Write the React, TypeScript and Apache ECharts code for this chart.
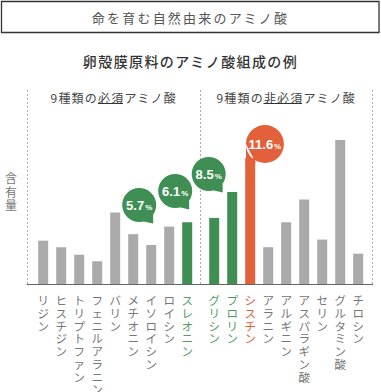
import React, { useEffect, useRef } from "react";
import * as echarts from "echarts";

// ---- texts ----
const TITLE = "命を育む自然由来のアミノ酸";
const SUBTITLE = "卵殻膜原料のアミノ酸組成の例";
const GROUP_ESSENTIAL = "9種類の必須アミノ酸";
const GROUP_NON_ESSENTIAL = "9種類の非必須アミノ酸";
const Y_NAME = "含有量";

// ---- data ----
const essentialNames = [
  "リジン",
  "ヒスチジン",
  "トリプトファン",
  "フェニルアラニン",
  "バリン",
  "メチオニン",
  "イソロイシン",
  "ロイシン",
  "スレオニン",
];
const essentialValues = [4.0, 3.4, 2.7, 2.1, 6.6, 4.6, 3.6, 5.3, 5.7];

const nonEssentialNames = [
  "グリシン",
  "プロリン",
  "シスチン",
  "アラニン",
  "アルギニン",
  "アスパラギン酸",
  "セリン",
  "グルタミン酸",
  "チロシン",
];
const nonEssentialValues = [6.1, 8.5, 11.6, 3.4, 5.7, 7.8, 4.1, 13.3, 2.8];

const greenNames = ["スレオニン", "グリシン", "プロリン"];
const orangeNames = ["シスチン"];
const calloutNames = ["スレオニン", "グリシン", "プロリン", "シスチン"];

// ---- styles ----
const JP = "'Noto Sans CJK JP', 'Noto Sans', sans-serif";
const NUM = "'Liberation Sans', Arial, sans-serif";
const GRAY = "#aaaaaa";
const GREEN = "#3f8f55";
const ORANGE = "#e2613b";
const LABEL_GRAY = "#777777";
const LABEL_GREEN = "#4f9d62";

const GROUP_GAP = 0.5; // extra slot between the two groups
const X_MIN = -0.9;
const X_MAX = 18.3;

const calloutOffsets: Record<string, number[]> = {
  "スレオニン": [-48, -16.5],
  "グリシン": [-39, -26.2],
  "プロリン": [-23.5, -17.2],
  "シスチン": [14.7, -14.3],
};

const GREEN_BUBBLE =
  "path://M0,17A17,17,0,1,1,34,17A17,17,0,1,1,0,17ZM30.9,26.75L31,35.5L21.4,33.4Z";
const ORANGE_BUBBLE =
  "path://M0,19A19,19,0,1,1,38,19A19,19,0,1,1,0,19ZM0,19L0,38L10,38Z";

const LETTER_SPACING: Record<string, number> = {
  [TITLE]: 2.2,
  [SUBTITLE]: 1.4,
  [GROUP_ESSENTIAL]: 1.2,
  [GROUP_NON_ESSENTIAL]: 1.2,
};

type Bar = { name: string; value: number; x: number };

const bars: Bar[] = [
  ...essentialNames.map((name, i) => ({ name, value: essentialValues[i], x: i })),
  ...nonEssentialNames.map((name, j) => ({
    name,
    value: nonEssentialValues[j],
    x: essentialNames.length + GROUP_GAP + j,
  })),
];

const divider = (essentialNames.length - 1 + essentialNames.length + GROUP_GAP) / 2;

function barColor(name: string) {
  if (orangeNames.includes(name)) return ORANGE;
  if (greenNames.includes(name)) return GREEN;
  return GRAY;
}
function labelColor(name: string) {
  if (orangeNames.includes(name)) return ORANGE;
  if (greenNames.includes(name)) return LABEL_GREEN;
  return LABEL_GRAY;
}

function buildOption(): any {
  const callouts = calloutNames.map((name) => {
    const b = bars.find((d) => d.name === name)!;
    const orange = orangeNames.includes(name);
    return {
      coord: [b.x, b.value],
      symbol: orange ? ORANGE_BUBBLE : GREEN_BUBBLE,
      symbolSize: orange ? [38, 38] : [34, 35.5],
      symbolOffset: calloutOffsets[name],
      itemStyle: { color: orange ? ORANGE : GREEN },
      label: {
        show: true,
        position: "inside",
        offset: orange ? [0, 0] : [0, -0.7],
        formatter: `{n|${b.value.toFixed(1)}}{p|%}`,
        rich: {
          n: { fontSize: 13, fontWeight: "bold", color: "#fff", fontFamily: NUM },
          p: { fontSize: 8, fontWeight: "bold", color: "#fff", fontFamily: NUM, padding: [5, 0, 0, 1] },
        },
      },
    };
  });

  return {
    animation: false,
    backgroundColor: "#ffffff",
    grid: { left: 27, right: 8.4, top: 89, bottom: 108, containLabel: false },
    xAxis: {
      type: "value",
      min: X_MIN,
      max: X_MAX,
      axisLine: { show: true, onZero: false, lineStyle: { color: "#666666", width: 1 } },
      axisTick: { show: false },
      axisLabel: { show: false },
      splitLine: { show: false },
    },
    yAxis: { type: "value", min: 0, max: 18, show: false },
    series: [
      {
        type: "bar",
        barWidth: 10,
        data: bars.map((b) => ({
          value: [b.x, b.value],
          itemStyle: { color: barColor(b.name) },
          label: { color: labelColor(b.name) },
        })),
        label: {
          show: true,
          position: "bottom",
          distance: 10,
          formatter: (p: any) => bars[p.dataIndex].name.split("").join("\n"),
          fontSize: 11.5,
          lineHeight: 12.7,
          fontFamily: JP,
          align: "center",
          verticalAlign: "top",
        },
        markLine: {
          silent: true,
          symbol: ["none", "none"],
          label: { show: false },
          lineStyle: { color: "#aaaaaa", type: [2, 2], width: 1 },
          data: [{ xAxis: X_MIN }, { xAxis: divider }, { xAxis: X_MAX }],
        },
        markPoint: { silent: true, data: callouts },
      },
    ],
    graphic: [
      {
        type: "rect",
        shape: { x: 1.5, y: 1.5, width: 377.5, height: 31 },
        style: { fill: "none", stroke: "#333333", lineWidth: 1.3 },
      },
      {
        type: "text",
        style: {
          text: TITLE, x: 190.5, y: 17.5, fill: "#555555", fontSize: 13, fontFamily: JP,
          align: "center", verticalAlign: "middle", textAlign: "center", textVerticalAlign: "middle",
        },
      },
      {
        type: "text",
        style: {
          text: SUBTITLE, x: 190.5, y: 61, fill: "#333333", fontSize: 14, fontWeight: 500, fontFamily: JP,
          align: "center", verticalAlign: "middle", textAlign: "center", textVerticalAlign: "middle",
        },
      },
      {
        type: "text",
        style: {
          text: GROUP_ESSENTIAL, x: 113.75, y: 97, fill: "#444444", fontSize: 12, fontFamily: JP,
          align: "center", verticalAlign: "middle", textAlign: "center", textVerticalAlign: "middle",
        },
      },
      {
        type: "text",
        style: {
          text: GROUP_NON_ESSENTIAL, x: 286.25, y: 97, fill: "#444444", fontSize: 12, fontFamily: JP,
          align: "center", verticalAlign: "middle", textAlign: "center", textVerticalAlign: "middle",
        },
      },
      {
        type: "line",
        shape: { x1: 98, y1: 103.5, x2: 123, y2: 103.5 },
        style: { stroke: "#333333", lineWidth: 1 },
      },
      {
        type: "line",
        shape: { x1: 263.5, y1: 103.5, x2: 302, y2: 103.5 },
        style: { stroke: "#333333", lineWidth: 1 },
      },
      {
        type: "text",
        style: {
          text: Y_NAME.split("").join("\n"), x: 11, y: 191, fill: "#777777", fontSize: 12, lineHeight: 13.3,
          fontFamily: JP, align: "center", verticalAlign: "middle", textAlign: "center", textVerticalAlign: "middle",
        },
      },
    ],
  };
}

export default function App() {
  const ref = useRef<HTMLDivElement>(null);
  useEffect(() => {
    const el = ref.current;
    if (!el) return;
    const chart = echarts.init(el, undefined, { renderer: "svg" });
    chart.setOption(buildOption());
    const apply = () => {
      el.querySelectorAll("text").forEach((t) => {
        const s = LETTER_SPACING[t.textContent || ""];
        if (s !== undefined) t.setAttribute("letter-spacing", String(s));
      });
    };
    apply();
    chart.on("finished", apply);
    return () => chart.dispose();
  }, []);
  return (
    <div
      ref={ref}
      style={{ position: "fixed", left: 0, top: 0, width: 381, height: 392, background: "#fff" }}
    />
  );
}
